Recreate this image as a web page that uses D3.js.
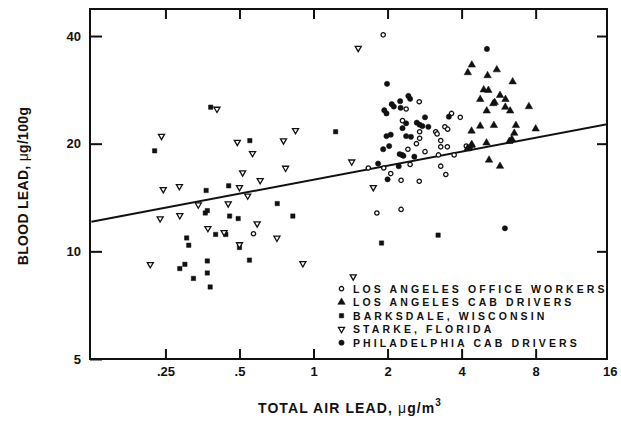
<!DOCTYPE html>
<html><head><meta charset="utf-8">
<script src="https://cdn.jsdelivr.net/npm/d3@7"></script>
<style>
body{margin:0;background:#fff}
svg{display:block}
text{font-family:"Liberation Sans",Arial,Helvetica,sans-serif;fill:#111}
</style>
</head><body>
<svg id="c" width="621" height="426"></svg>
<script>
// ---------- data ----------
const xTickValues = [0.25, 0.5, 1, 2, 4, 8, 16];
const xTickLabels = [".25", ".5", "1", "2", "4", "8", "16"];
const yTickValues = [5, 10, 20, 40];
const yTickLabels = ["5", "10", "20", "40"];
const xDomain = [0.1234, 15.6];
const yDomain = [5, 47.6];

// LOS ANGELES OFFICE WORKERS  [air lead µg/m3, blood lead µg/100g]
const officeWorkers = [
  [1.92,40.3],[2.69,26.2],[2.38,25.0],[2.30,23.2],[2.70,21.6],[2.70,20.7],[2.62,20.0],
  [2.42,19.3],[2.84,19.0],[2.47,17.5],[1.67,17.1],[1.93,17.1],[2.06,16.5],[2.27,15.8],
  [2.69,15.7],[1.81,12.8],[2.27,13.1],[3.64,24.3],[3.95,23.7],[3.14,21.6],[3.18,21.3],
  [3.42,22.3],[3.51,21.96],[3.29,20.4],[3.29,19.6],[3.50,19.6],[3.22,18.6],[3.73,18.6],
  [3.29,17.3],[3.45,16.4],[4.18,19.7],[0.57,11.2]
];
// LOS ANGELES CAB DRIVERS
const laCabDrivers = [
  [4.40,33.2],[4.24,31.6],[5.56,32.2],[5.10,31.0],[6.45,29.8],[4.92,28.3],[5.14,28.2],
  [4.76,26.6],[5.73,27.3],[6.03,26.6],[5.45,26.1],[5.38,25.9],[7.51,25.4],[6.02,25.3],
  [6.30,24.7],[5.06,24.7],[6.65,22.5],[8.00,22.0],[5.41,22.5],[4.76,22.4],[4.39,21.7],
  [6.55,21.4],[5.05,20.1],[4.40,19.9],[4.23,19.4],[6.25,20.3],[6.40,20.6],[5.17,18.0],
  [5.73,17.3],[4.39,19.8]
];
// BARKSDALE, WISCONSIN
const barksdale = [
  [0.226,19.1],[0.382,25.3],[0.551,20.4],[0.452,15.25],[0.366,14.8],[0.712,13.6],
  [0.363,12.8],[0.370,13.0],[0.456,12.55],[0.494,12.35],[0.824,12.55],[0.400,11.15],
  [0.440,11.15],[0.305,10.9],[0.311,10.4],[0.500,10.25],[0.286,8.95],[0.300,9.2],
  [0.325,8.4],[0.370,9.4],[0.370,8.7],[0.380,7.95],[0.549,9.45],[1.23,21.6],
  [1.89,10.55],[3.21,11.1]
];
// STARKE, FLORIDA
const starke = [
  [0.241,21.0],[0.405,25.0],[0.490,20.2],[0.565,18.8],[0.755,20.4],[0.845,21.8],
  [0.515,16.6],[0.770,17.1],[0.245,14.9],[0.285,15.2],[0.500,15.1],[0.607,15.8],
  [0.340,13.5],[0.450,13.6],[0.540,14.3],[0.238,12.35],[0.286,12.6],[0.372,11.6],
  [0.433,11.3],[0.590,11.95],[0.710,10.9],[0.500,10.45],[0.217,9.2],[0.905,9.25],
  [1.52,37.0],[1.43,17.8],[1.75,15.1],[1.45,8.5]
];
// PHILADELPHIA CAB DRIVERS
const phillyCabDrivers = [
  [5.07,36.8],[1.99,29.4],[2.43,27.2],[2.47,26.7],[2.25,26.3],[2.08,25.8],[2.12,25.4],
  [1.94,24.8],[1.98,24.3],[2.26,25.2],[2.38,22.8],[2.63,22.9],[2.70,22.6],[2.77,22.4],
  [2.84,23.7],[2.93,22.3],[2.30,22.1],[1.98,21.0],[2.06,21.2],[2.38,21.0],[2.49,20.9],
  [2.03,19.7],[1.92,19.3],[2.24,18.7],[2.29,18.6],[2.32,18.5],[2.57,18.4],[1.83,17.6],
  [2.22,17.3],[2.00,15.9],[3.55,23.8],[4.32,19.4],[6.00,11.6]
];
// fitted line end points
const regressionLine = [[0.125,12.1],[16,22.75]];

const legendLabels = [
  "LOS ANGELES OFFICE WORKERS",
  "LOS ANGELES CAB DRIVERS",
  "BARKSDALE, WISCONSIN",
  "STARKE, FLORIDA",
  "PHILADELPHIA CAB DRIVERS"
];

// ---------- drawing ----------
const W = 621, H = 426;
const m = {l:90, r:14, t:9, b:67};
const ink = "#111";
const svg = d3.select("#c");

const x = d3.scaleLog().domain(xDomain).range([m.l, W - m.r]);
const y = d3.scaleLog().domain(yDomain).range([H - m.b, m.t]);

const styles = [
  {data: officeWorkers,   type: d3.symbolCircle,   size: 15, fill: "#fff", sw: 1.3, rot: 0},
  {data: laCabDrivers,    type: d3.symbolTriangle, size: 24, fill: ink,    sw: 0.5, rot: 0},
  {data: barksdale,       type: d3.symbolSquare,   size: 19, fill: ink,    sw: 0.5, rot: 0},
  {data: starke,          type: d3.symbolTriangle, size: 16, fill: "#fff", sw: 1.3, rot: 180},
  {data: phillyCabDrivers,type: d3.symbolCircle,   size: 22, fill: ink,    sw: 0.5, rot: 0}
];

svg.append("defs").append("clipPath").attr("id","plot")
  .append("rect").attr("x", m.l).attr("y", m.t)
  .attr("width", W - m.l - m.r).attr("height", H - m.t - m.b);

// regression line
svg.append("path")
  .attr("clip-path","url(#plot)")
  .attr("d", d3.line().x(d => x(d[0])).y(d => y(d[1]))(regressionLine))
  .attr("fill","none").attr("stroke", ink).attr("stroke-width", 2);

// points
styles.forEach(s => {
  const gen = d3.symbol().type(s.type).size(s.size);
  svg.append("g").selectAll("path").data(s.data).join("path")
    .attr("d", gen)
    .attr("transform", d => `translate(${x(d[0])},${y(d[1])}) rotate(${s.rot})`)
    .attr("fill", s.fill).attr("stroke", ink).attr("stroke-width", s.sw);
});

// frame
svg.append("rect").attr("x", m.l).attr("y", m.t)
  .attr("width", W - m.l - m.r).attr("height", H - m.t - m.b)
  .attr("fill","none").attr("stroke", ink).attr("stroke-width", 2);

function styleAxis(g){
  g.select(".domain").remove();
  g.selectAll(".tick line").attr("stroke", ink).attr("stroke-width", 2);
  g.selectAll(".tick text").attr("font-size", 13).attr("font-weight","bold").attr("fill", ink);
}
const inside = xTickValues.filter(v => v < xDomain[1]);

const gb = svg.append("g").attr("transform", `translate(0,${H - m.b})`)
  .call(d3.axisBottom(x).tickValues(xTickValues)
    .tickFormat((d,i) => xTickLabels[i]).tickSizeInner(-10).tickSizeOuter(0).tickPadding(8));
styleAxis(gb);
gb.selectAll(".tick").filter(d => d > xDomain[1]).select("line").remove();

const gt = svg.append("g").attr("transform", `translate(0,${m.t})`)
  .call(d3.axisTop(x).tickValues(inside).tickFormat("").tickSizeInner(-10).tickSizeOuter(0));
styleAxis(gt);

const gl = svg.append("g").attr("transform", `translate(${m.l},0)`)
  .call(d3.axisLeft(y).tickValues(yTickValues)
    .tickFormat((d,i) => yTickLabels[i]).tickSizeInner(-12).tickSizeOuter(0).tickPadding(9));
styleAxis(gl);

const gr = svg.append("g").attr("transform", `translate(${W - m.r},0)`)
  .call(d3.axisRight(y).tickValues(yTickValues.filter(v => v > yDomain[0]))
    .tickFormat("").tickSizeInner(-10).tickSizeOuter(0));
styleAxis(gr);

// axis titles
const xt = svg.append("text").attr("x", 350).attr("y", 413)
  .attr("text-anchor","middle").attr("font-size", 14).attr("font-weight","bold")
  .attr("letter-spacing", 1.1);
xt.append("tspan").text("TOTAL AIR LEAD, ");
xt.append("tspan").attr("font-weight","normal").text("μ");
xt.append("tspan").text("g/m");
xt.append("tspan").attr("font-size", 10).attr("dy", -7).text("3");

const yt = svg.append("text").attr("transform", "translate(28,186) rotate(-90)")
  .attr("text-anchor","middle").attr("font-size", 14).attr("font-weight","bold")
  .attr("letter-spacing", 0.3);
yt.append("tspan").text("BLOOD LEAD, ");
yt.append("tspan").attr("font-weight","normal").text("μ");
yt.append("tspan").text("g/100g");

// legend
const lg = svg.append("g").attr("transform", "translate(341.5,292.5)");
legendLabels.forEach((lab, i) => {
  const s = styles[i];
  const row = lg.append("g").attr("transform", `translate(0,${i * 13.5})`);
  row.append("path")
    .attr("d", d3.symbol().type(s.type).size(s.size)())
    .attr("transform", `translate(0,-3.8) rotate(${s.rot})`)
    .attr("fill", s.fill).attr("stroke", ink).attr("stroke-width", s.sw);
  row.append("text").attr("x", 11.5).attr("y", 0)
    .attr("font-size", 10.5).attr("font-weight","bold").attr("letter-spacing", 3.1)
    .text(lab);
});
</script>
</body></html>
